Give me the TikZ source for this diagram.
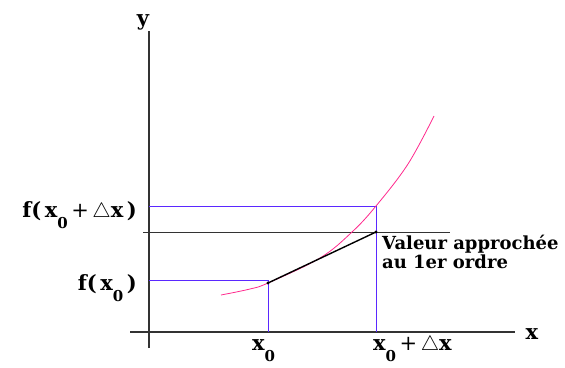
\documentclass[tikz,border=0pt]{standalone}
\usepackage{amsmath,amssymb}
\usepackage{xcolor}
\usepackage{fontspec}
\setmainfont{DejaVu Serif}
\usepackage{tikz}
\usetikzlibrary{positioning,calc}
\definecolor{courbe}{RGB}{255,40,140}
\definecolor{bleu}{RGB}{90,40,255}
\newcommand{\zero}{\raisebox{-11pt}{\fontsize{15}{15}\selectfont 0}}
\newcommand{\dx}{{\fontsize{21}{21}\selectfont$\triangle$}x}
\newcommand{\plus}{{\mdseries +}}

\begin{document}
\begin{tikzpicture}[x=1pt, y=-1pt,
  axe/.style={draw=black!80, line width=1.2pt},
  proj/.style={draw=bleu, line width=1pt},
  lab/.style={font=\fontsize{21}{22}\selectfont\bfseries, inner sep=0pt},
  txt/.style={font=\fontsize{18}{19}\selectfont\bfseries, align=left, inner sep=0pt}
]
\useasboundingbox (0,0) rectangle (565,367);
% axes
\coordinate (ybas) at (149,348);
\coordinate (yhaut) at (149,31);
\coordinate (xgauche) at (130,332);
\coordinate (xdroite) at (515,332);
\draw[axe] (ybas) -- (yhaut);
\draw[axe] (xgauche) -- (xdroite);
\node[lab] (ylab) at (143,22) {y};
\node[lab] (xlab) at (532,334) {x};

% points
\coordinate (A) at (268,283);
\coordinate (B) at (376,206);
\coordinate (T) at (376,232);
\coordinate (ax0) at (268,332);
\coordinate (ax1) at (376,332);
\coordinate (ay0) at (149,280);
\coordinate (ay1) at (149,206);
\coordinate (aT) at (143,232);
\coordinate (aTd) at (450,232);

% projections
\draw[proj] (ay1) -- (B) -- (ax1);
\draw[proj] (ay0) -- (268,280) -- (ax0);
\draw[axe, line width=1pt] (aT) -- (aTd);

% courbe
\draw[courbe, line width=0.8pt] plot[smooth, tension=0.6] coordinates
  {(221,295) (250,289) (268,283) (320,258) (352,232) (376,206) (408,164) (434,116)};

% approximation au 1er ordre
\draw[line width=1.4pt] (A) -- (T);
\fill (A) circle (1.6pt);
\fill (T) circle (1.6pt);

% etiquettes
\node[lab, anchor=base east] (fx1) at (137,217) {f(\,x\zero\,\plus\,\dx\,)};
\node[lab, anchor=base east] (fx0) at (137,290) {f(\,x\zero\,)};
\node[lab, anchor=base west] (x0) at (252,350) {x\zero};
\node[lab, anchor=base west] (x1) at (373,350) {x\zero\,\plus\,\dx};
\node[txt, anchor=base west] (approx) at (382,268) {Valeur approchée\\au 1er ordre};
\end{tikzpicture}
\end{document}
